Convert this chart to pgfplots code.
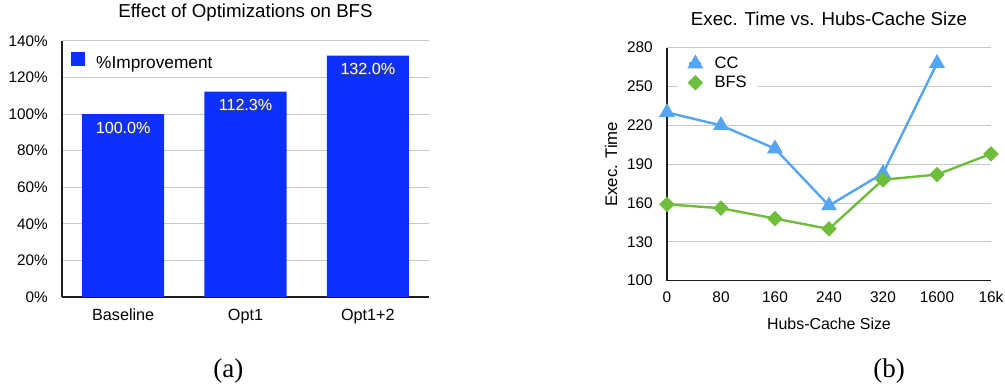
\documentclass[border=0pt]{standalone}
\usepackage{pgfplots}
\pgfplotsset{compat=1.18}
\usepackage{fontspec}
\setmainfont{Liberation Sans}
\newfontfamily\captionserif{Liberation Serif}

\definecolor{barblue}{RGB}{12,48,255}
\definecolor{ccblue}{RGB}{85,165,245}
\definecolor{bfsgreen}{RGB}{110,190,60}
\definecolor{gridgray}{RGB}{200,200,200}
\definecolor{axisdark}{RGB}{30,30,30}

% white label with a dark drop shadow
\newcommand\shadowed[1]{\leavevmode\rlap{\hspace{0.7pt}\raisebox{-0.9pt}{\textcolor{black!70}{#1}}}\textcolor{white}{#1}}

\newcommand\fsz[1]{\fontsize{#1}{#1}\selectfont}

\begin{document}
\begin{tikzpicture}
\path[use as bounding box] (0,0) rectangle (1005pt,387pt);

% (a) effect of the optimizations
\begin{axis}[
  at={(62pt,90pt)}, anchor=south west,
  scale only axis, width=367pt, height=256pt,
  ybar, bar width=82pt,
  xmin=-0.5, xmax=2.5, ymin=0, ymax=140,
  xtick=data, xticklabels={Baseline,Opt1,Opt1+2},
  ytick={0,20,...,140},
  yticklabel={\pgfmathprintnumber[assume math mode=true]{\tick}\%},
  /pgf/number format/assume math mode=true,
  major tick length=0pt,
  ymajorgrids, grid style={draw=gridgray, line width=1pt},
  axis x line*=bottom, axis y line*=left,
  axis line style={-, draw=axisdark, line width=1.3pt},
  yticklabel style={anchor=east, inner sep=0pt, xshift=-14pt, font=\fsz{15.3}},
  xticklabel style={anchor=base, inner sep=0pt, yshift=-24pt, font=\fsz{16.2}},
  title={Effect of Optimizations on BFS},
  every axis title shift=0pt,
  title style={at={(0.5,1)}, anchor=base, yshift=23.7pt, font=\fsz{18.7}},
  legend style={at={(0,1)}, anchor=north west, xshift=9pt, yshift=-11.3pt,
    draw=none, fill=none, inner sep=0pt, font=\fsz{17.3},
    column sep=11pt, nodes={inner sep=0pt}},
  legend image code/.code={\fill[#1] (0pt,-3pt) rectangle (14pt,11pt);},
  nodes near coords={\shadowed{\pgfmathprintnumber[fixed,fixed zerofill,precision=1,assume math mode=true]{\pgfplotspointmeta}\%}},
  every node near coord/.append style={anchor=base, inner sep=0pt, yshift=-19.3pt, font=\fsz{16.1}},
]
\addplot[fill=barblue, draw=none] coordinates {(0,100) (1,112.3) (2,132.0)};
\legend{\%Improvement}
\end{axis}

% (b) execution time against hubs-cache size
\begin{axis}[
  at={(667pt,106.3pt)}, anchor=south west,
  scale only axis, width=324pt, height=233pt,
  xmin=0, xmax=6, ymin=100, ymax=280,
  ytick={100,130,...,280},
  xtick={0,...,6}, xticklabels={0,80,160,240,320,1600,16k},
  /pgf/number format/assume math mode=true,
  major tick length=0pt,
  clip=false,
  ymajorgrids, grid style={draw=gridgray, line width=1pt},
  axis x line*=bottom, axis y line*=left,
  axis line style={-, draw=axisdark, line width=1.3pt},
  yticklabel style={anchor=east, inner sep=0pt, xshift=-14pt, font=\fsz{15.4}},
  xticklabel style={anchor=base, inner sep=0pt, yshift=-21.6pt, font=\fsz{15.4}},
  xlabel={Hubs-Cache Size}, ylabel={Exec. Time},
  xlabel style={at={(0.5,-0.2094)}, anchor=base, inner sep=0pt, font=\fsz{15.9}},
  ylabel style={at={(-0.1543,0.5)}, anchor=base, inner sep=0pt, font=\fsz{16.8}},
  title={Exec. Time vs. Hubs-Cache Size},
  every axis title shift=0pt,
  title style={at={(0.5,1)}, anchor=base, yshift=21.7pt, font=\fsz{18.7}},
  legend cell align=left,
  legend style={at={(0,1)}, anchor=north west, xshift=10pt, yshift=-5pt,
    draw=none, fill=white, inner xsep=11pt, inner ysep=4pt, font=\fsz{16.5},
    column sep=12pt, row sep=6pt, nodes={inner sep=0pt}},
  legend image code/.code={\draw[mark repeat=2,mark phase=2,#1] plot coordinates {(0pt,0pt) (6pt,0pt) (12pt,0pt)};},
]
\addplot[ccblue, line width=2.4pt, mark=triangle*, mark size=6.8pt, mark options={solid}]
  coordinates {(0,230) (1,220) (2,202) (3,158) (4,183) (5,268)};
\addplot[bfsgreen, line width=2.4pt, mark=square*, mark size=4.3pt, mark options={solid, rotate=45}]
  coordinates {(0,159) (1,156) (2,148) (3,140) (4,178) (5,182) (6,198)};
\legend{CC,BFS}
\end{axis}

\node[anchor=base, inner sep=0pt, font=\captionserif\fsz{27}] at (228.3pt,9.7pt) {(a)};
\node[anchor=base, inner sep=0pt, font=\captionserif\fsz{27}] at (889pt,9.7pt) {(b)};
\end{tikzpicture}
\end{document}
